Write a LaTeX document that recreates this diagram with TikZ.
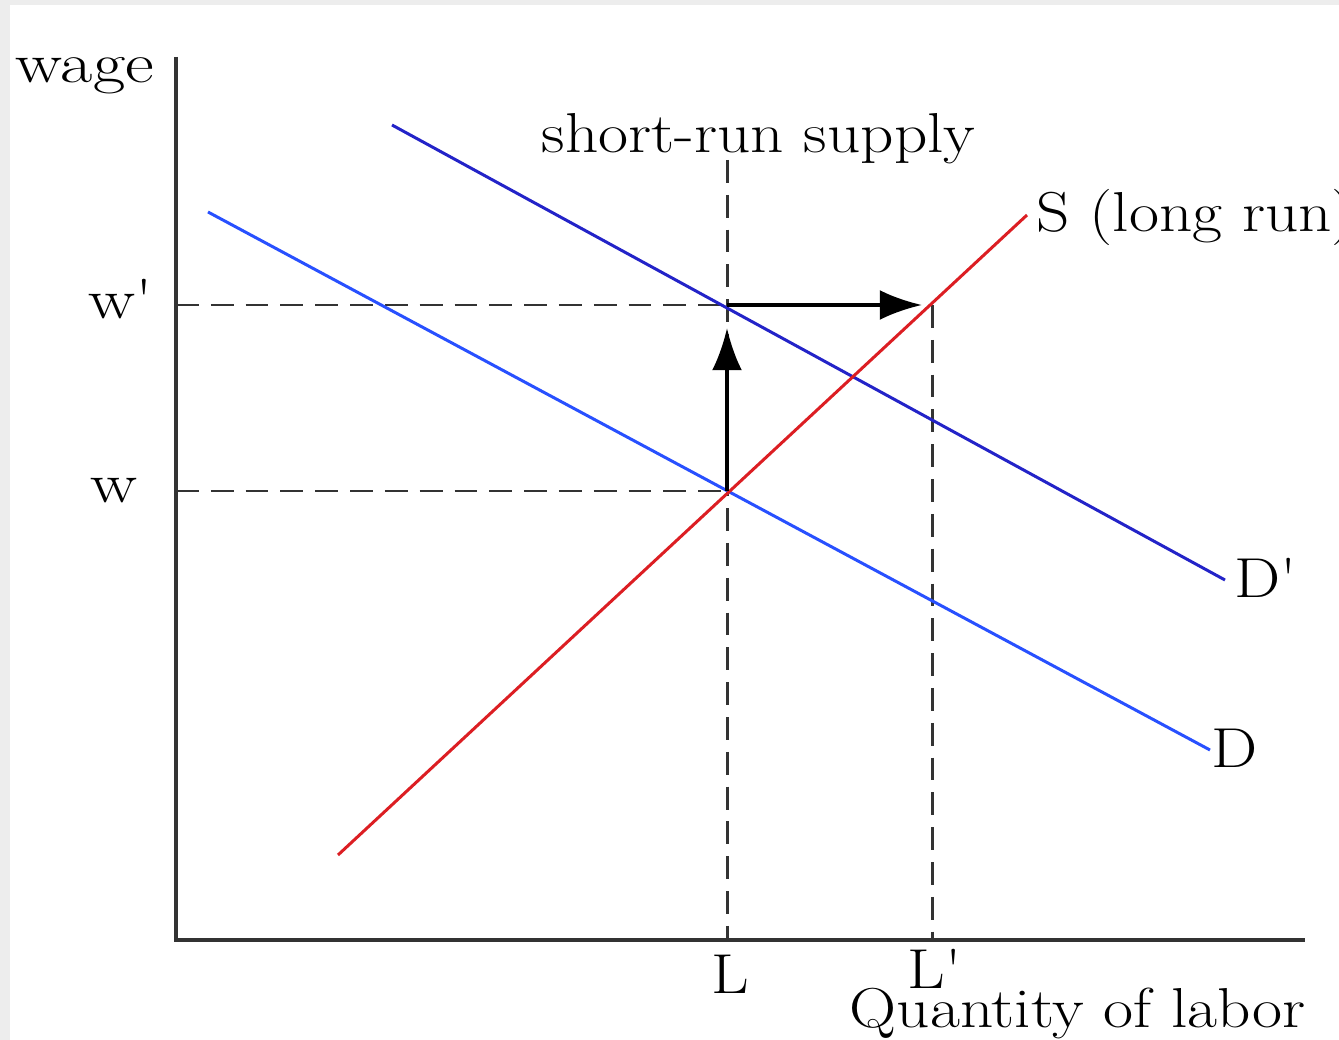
\documentclass[tikz,border=0pt]{standalone}
\usetikzlibrary{arrows.meta}
\newcommand\labx[1]{\scalebox{1.16}[1]{#1}}
\newcommand\labw[1]{\scalebox{1.25}[1]{#1}}
\begin{document}
\begin{tikzpicture}[x=0.01cm,y=-0.01cm,
  lbl/.style={font=\fontsize{16}{19}\selectfont, inner sep=0pt, anchor=base west},
  axis/.style={draw=black!80, line width=0.95pt},
  guide/.style={draw=black!80, line width=0.85pt, dash pattern=on 6.5pt off 3.4pt},
  curve/.style={line width=0.85pt},
  movearrow/.style={draw=black, line width=1pt, -{Latex[length=12pt,width=8.5pt]}}]
\useasboundingbox (0,0) rectangle (1339,1040);
\clip (0,0) rectangle (1339,1040);
\fill[white] (0,0) rectangle (1339,1040);
\fill[black!7] (0,0) rectangle (1339,5);
\fill[black!7] (0,0) rectangle (10,1040);
% axes
\coordinate (o) at (176,940);
\coordinate (ytop) at (176,57);
\coordinate (xend) at (1305,940);
\draw[axis] (ytop) -- (o) -- (xend);
% key points
\coordinate (e0) at (727,491);
\coordinate (e1) at (727,305);
\coordinate (e2) at (932,305);
\coordinate (Ltop) at (727,160);
\coordinate (Lbot) at (727,940);
\coordinate (Lpbot) at (932,940);
\coordinate (wax) at (176,491);
\coordinate (wpax) at (176,305);
% guides
\draw[guide] (wpax) -- (e1);
\draw[guide] (wax) -- (e0);
\draw[guide] (Ltop) -- (Lbot);
\draw[guide] (e2) -- (Lpbot);
% curves
\coordinate (Dps) at (392,125);
\coordinate (Dpe) at (1225,580);
\coordinate (Ds) at (208,212);
\coordinate (De) at (1210,750);
\coordinate (Ss) at (338,855);
\coordinate (Se) at (1027,215);
\draw[curve, draw={rgb,255:red,35;green,35;blue,200}] (Dps) -- (Dpe);
\draw[curve, draw={rgb,255:red,40;green,80;blue,255}] (Ds) -- (De);
\draw[curve, draw={rgb,255:red,220;green,30;blue,35}] (Ss) -- (Se);
% shift arrows
\coordinate (vtip) at (727,328);
\coordinate (htip) at (922,305);
\draw[movearrow] (e0) -- (vtip);
\draw[movearrow] (e1) -- (htip);
% labels
\node[lbl] (wage) at (15,83) {\labw{wage}};
\node[lbl] (wp) at (88,319) {\labw{w\textquotesingle}};
\node[lbl] (w) at (90,503) {\labw{w}};
\node[lbl] (srs) at (541,153) {\labx{short-run supply}};
\node[lbl] (slr) at (1036,232) {\labx{S (long run)}};
\node[lbl] (dp) at (1234,597) {\labx{D\textquotesingle}};
\node[lbl] (d) at (1211,767) {\labx{D}};
\node[lbl] (l) at (711,993) {\labx{L}};
\node[lbl] (lp) at (907,988) {\labx{L\textquotesingle}};
\node[lbl] (q) at (849,1027) {\labx{Quantity of labor}};
\end{tikzpicture}
\end{document}
